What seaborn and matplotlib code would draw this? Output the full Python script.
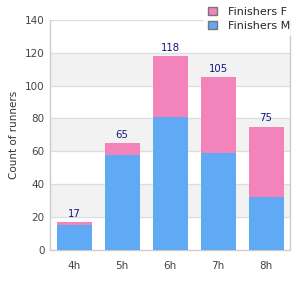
import matplotlib
matplotlib.use("Agg")
import matplotlib.pyplot as plt
import seaborn as sns
import pandas as pd
from matplotlib.patches import Patch

# Data
hours = ['4h', '5h', '6h', '7h', '8h']
finishers_m = [15, 58, 81, 59, 32]
finishers_f = [2, 7, 37, 46, 43]

pink = '#f283bb'
blue = '#60a9f5'

df = pd.DataFrame({'hour': hours, 'M': finishers_m, 'F': finishers_f})
df['total'] = df['M'] + df['F']

sns.set_theme(style="white")
plt.rcParams['font.family'] = ['DejaVu Sans']

fig = plt.figure(figsize=(3, 3), dpi=100)
ax = fig.add_axes([0.167, 0.167, 0.8, 0.767])

# alternating background bands
for lo in range(20, 140, 40):
    ax.axhspan(lo, lo + 20, color='#f2f2f2', zorder=0, lw=0)
for y in range(20, 141, 20):
    ax.axhline(y, color='#dddddd', lw=0.9, zorder=0.5)

# stacked bars: total (pink) underneath, male (blue) on top
sns.barplot(data=df, x='hour', y='total', color=pink, width=0.73,
            saturation=1, linewidth=0, ax=ax, zorder=2)
sns.barplot(data=df, x='hour', y='M', color=blue, width=0.73,
            saturation=1, linewidth=0, ax=ax, zorder=3)

for i, t in enumerate(df['total']):
    ax.text(i, t + 2, str(t), ha='center', va='bottom', fontsize=7.3,
            color='#161680', zorder=4)

ax.set_ylim(0, 140)
ax.set_yticks(range(0, 141, 20))
ax.set_xlabel('')
ax.set_ylabel('Count of runners', fontsize=7.5, color='#333333')
ax.tick_params(axis='both', labelsize=7.5, colors='#444444', length=0, pad=4)
ax.tick_params(axis='x', pad=8)

for side in ['left', 'bottom', 'right']:
    ax.spines[side].set_color('#cccccc')
    ax.spines[side].set_linewidth(1)
ax.spines['top'].set_visible(False)

handles = [Patch(facecolor=pink, edgecolor='#777777', label='Finishers F'),
           Patch(facecolor=blue, edgecolor='#777777', label='Finishers M')]
leg = fig.legend(handles=handles, loc='upper right', bbox_to_anchor=(1.0, 1.01),
                 fontsize=8, frameon=True, fancybox=False, edgecolor='white',
                 handlelength=0.75, handleheight=0.75, handletextpad=1.0,
                 labelspacing=0.35, borderpad=0.4)
leg.get_frame().set_facecolor('white')
leg.set_zorder(10)

fig.savefig('out.png', dpi=100)
